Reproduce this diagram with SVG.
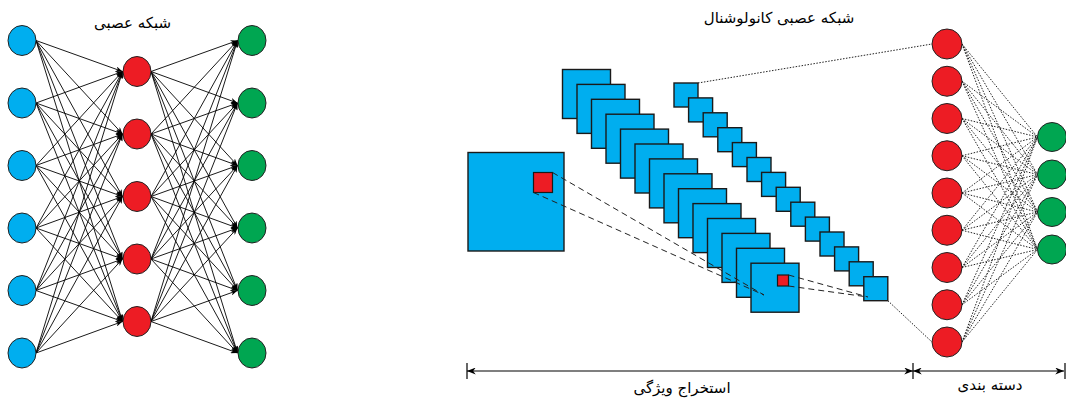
<svg xmlns="http://www.w3.org/2000/svg" width="1066" height="399" viewBox="0 0 1066 399">
  <style>
    .blue { fill: #00AEEF; stroke: #222; stroke-width: 1; }
    .red { fill: #ED1C24; stroke: #222; stroke-width: 1; }
    .green { fill: #00A651; stroke: #222; stroke-width: 1; }
    .fmap { fill: #00AEEF; stroke: #1a1a1a; stroke-width: 1.4; }
    .patch { fill: #ED1C24; stroke: #1a1a1a; stroke-width: 1.2; }
    .edge { stroke: #000; stroke-width: 0.9; fill: none; marker-end: url(#ah); }
    .dash { stroke: #222; stroke-width: 1; stroke-dasharray: 6 4; fill: none; }
    .dot { stroke: #222; stroke-width: 1; stroke-dasharray: 1.5 1.5; fill: none; }
    .dim { stroke: #000; stroke-width: 1.2; fill: none; }
    .label { font-family: "DejaVu Sans", sans-serif; fill: #000; text-anchor: middle; }
  </style>
  <defs>
    <marker id="ah" viewBox="0 0 10 8" refX="10" refY="4" markerWidth="7" markerHeight="5.6" markerUnits="userSpaceOnUse" orient="auto">
      <path d="M0,0 L10,4 L0,8 L3,4 z" fill="#000"/>
    </marker>
    <marker id="dimhead" viewBox="0 0 10 8" refX="10" refY="4" markerWidth="9" markerHeight="7" markerUnits="userSpaceOnUse" orient="auto-start-reverse">
      <path d="M0,0 L10,4 L0,8 L3,4 z" fill="#000"/>
    </marker>
  </defs>

  <!-- connectors -->
  <g id="connectors">
    <!-- fully connected network: input to hidden -->
    <g id="edges-in-hidden">
      <line class="edge" x1="36" y1="40.5" x2="122.5" y2="71.5"/>
      <line class="edge" x1="36" y1="40.5" x2="122.5" y2="134"/>
      <line class="edge" x1="36" y1="40.5" x2="122.5" y2="196.5"/>
      <line class="edge" x1="36" y1="40.5" x2="122.5" y2="259"/>
      <line class="edge" x1="36" y1="40.5" x2="122.5" y2="321.5"/>
      <line class="edge" x1="36" y1="103" x2="122.5" y2="71.5"/>
      <line class="edge" x1="36" y1="103" x2="122.5" y2="134"/>
      <line class="edge" x1="36" y1="103" x2="122.5" y2="196.5"/>
      <line class="edge" x1="36" y1="103" x2="122.5" y2="259"/>
      <line class="edge" x1="36" y1="103" x2="122.5" y2="321.5"/>
      <line class="edge" x1="36" y1="165.5" x2="122.5" y2="71.5"/>
      <line class="edge" x1="36" y1="165.5" x2="122.5" y2="134"/>
      <line class="edge" x1="36" y1="165.5" x2="122.5" y2="196.5"/>
      <line class="edge" x1="36" y1="165.5" x2="122.5" y2="259"/>
      <line class="edge" x1="36" y1="165.5" x2="122.5" y2="321.5"/>
      <line class="edge" x1="36" y1="228" x2="122.5" y2="71.5"/>
      <line class="edge" x1="36" y1="228" x2="122.5" y2="134"/>
      <line class="edge" x1="36" y1="228" x2="122.5" y2="196.5"/>
      <line class="edge" x1="36" y1="228" x2="122.5" y2="259"/>
      <line class="edge" x1="36" y1="228" x2="122.5" y2="321.5"/>
      <line class="edge" x1="36" y1="290.5" x2="122.5" y2="71.5"/>
      <line class="edge" x1="36" y1="290.5" x2="122.5" y2="134"/>
      <line class="edge" x1="36" y1="290.5" x2="122.5" y2="196.5"/>
      <line class="edge" x1="36" y1="290.5" x2="122.5" y2="259"/>
      <line class="edge" x1="36" y1="290.5" x2="122.5" y2="321.5"/>
      <line class="edge" x1="36" y1="353" x2="122.5" y2="71.5"/>
      <line class="edge" x1="36" y1="353" x2="122.5" y2="134"/>
      <line class="edge" x1="36" y1="353" x2="122.5" y2="196.5"/>
      <line class="edge" x1="36" y1="353" x2="122.5" y2="259"/>
      <line class="edge" x1="36" y1="353" x2="122.5" y2="321.5"/>
    </g>
    <!-- fully connected network: hidden to output -->
    <g id="edges-hidden-out">
      <line class="edge" x1="151" y1="71.5" x2="237.5" y2="40.5"/>
      <line class="edge" x1="151" y1="71.5" x2="237.5" y2="103"/>
      <line class="edge" x1="151" y1="71.5" x2="237.5" y2="165.5"/>
      <line class="edge" x1="151" y1="71.5" x2="237.5" y2="228"/>
      <line class="edge" x1="151" y1="71.5" x2="237.5" y2="290.5"/>
      <line class="edge" x1="151" y1="71.5" x2="237.5" y2="353"/>
      <line class="edge" x1="151" y1="134" x2="237.5" y2="40.5"/>
      <line class="edge" x1="151" y1="134" x2="237.5" y2="103"/>
      <line class="edge" x1="151" y1="134" x2="237.5" y2="165.5"/>
      <line class="edge" x1="151" y1="134" x2="237.5" y2="228"/>
      <line class="edge" x1="151" y1="134" x2="237.5" y2="290.5"/>
      <line class="edge" x1="151" y1="134" x2="237.5" y2="353"/>
      <line class="edge" x1="151" y1="196.5" x2="237.5" y2="40.5"/>
      <line class="edge" x1="151" y1="196.5" x2="237.5" y2="103"/>
      <line class="edge" x1="151" y1="196.5" x2="237.5" y2="165.5"/>
      <line class="edge" x1="151" y1="196.5" x2="237.5" y2="228"/>
      <line class="edge" x1="151" y1="196.5" x2="237.5" y2="290.5"/>
      <line class="edge" x1="151" y1="196.5" x2="237.5" y2="353"/>
      <line class="edge" x1="151" y1="259" x2="237.5" y2="40.5"/>
      <line class="edge" x1="151" y1="259" x2="237.5" y2="103"/>
      <line class="edge" x1="151" y1="259" x2="237.5" y2="165.5"/>
      <line class="edge" x1="151" y1="259" x2="237.5" y2="228"/>
      <line class="edge" x1="151" y1="259" x2="237.5" y2="290.5"/>
      <line class="edge" x1="151" y1="259" x2="237.5" y2="353"/>
      <line class="edge" x1="151" y1="321.5" x2="237.5" y2="40.5"/>
      <line class="edge" x1="151" y1="321.5" x2="237.5" y2="103"/>
      <line class="edge" x1="151" y1="321.5" x2="237.5" y2="165.5"/>
      <line class="edge" x1="151" y1="321.5" x2="237.5" y2="228"/>
      <line class="edge" x1="151" y1="321.5" x2="237.5" y2="290.5"/>
      <line class="edge" x1="151" y1="321.5" x2="237.5" y2="353"/>
    </g>
    <!-- classifier: flattened features to outputs -->
    <g id="edges-classifier">
      <line class="dot" x1="962" y1="44" x2="1037.5" y2="137"/>
      <line class="dot" x1="962" y1="44" x2="1037.5" y2="174.5"/>
      <line class="dot" x1="962" y1="44" x2="1037.5" y2="212"/>
      <line class="dot" x1="962" y1="44" x2="1037.5" y2="249.5"/>
      <line class="dot" x1="962" y1="81.25" x2="1037.5" y2="137"/>
      <line class="dot" x1="962" y1="81.25" x2="1037.5" y2="174.5"/>
      <line class="dot" x1="962" y1="81.25" x2="1037.5" y2="212"/>
      <line class="dot" x1="962" y1="81.25" x2="1037.5" y2="249.5"/>
      <line class="dot" x1="962" y1="118.5" x2="1037.5" y2="137"/>
      <line class="dot" x1="962" y1="118.5" x2="1037.5" y2="174.5"/>
      <line class="dot" x1="962" y1="118.5" x2="1037.5" y2="212"/>
      <line class="dot" x1="962" y1="118.5" x2="1037.5" y2="249.5"/>
      <line class="dot" x1="962" y1="155.75" x2="1037.5" y2="137"/>
      <line class="dot" x1="962" y1="155.75" x2="1037.5" y2="174.5"/>
      <line class="dot" x1="962" y1="155.75" x2="1037.5" y2="212"/>
      <line class="dot" x1="962" y1="155.75" x2="1037.5" y2="249.5"/>
      <line class="dot" x1="962" y1="193" x2="1037.5" y2="137"/>
      <line class="dot" x1="962" y1="193" x2="1037.5" y2="174.5"/>
      <line class="dot" x1="962" y1="193" x2="1037.5" y2="212"/>
      <line class="dot" x1="962" y1="193" x2="1037.5" y2="249.5"/>
      <line class="dot" x1="962" y1="230.25" x2="1037.5" y2="137"/>
      <line class="dot" x1="962" y1="230.25" x2="1037.5" y2="174.5"/>
      <line class="dot" x1="962" y1="230.25" x2="1037.5" y2="212"/>
      <line class="dot" x1="962" y1="230.25" x2="1037.5" y2="249.5"/>
      <line class="dot" x1="962" y1="267.5" x2="1037.5" y2="137"/>
      <line class="dot" x1="962" y1="267.5" x2="1037.5" y2="174.5"/>
      <line class="dot" x1="962" y1="267.5" x2="1037.5" y2="212"/>
      <line class="dot" x1="962" y1="267.5" x2="1037.5" y2="249.5"/>
      <line class="dot" x1="962" y1="304.75" x2="1037.5" y2="137"/>
      <line class="dot" x1="962" y1="304.75" x2="1037.5" y2="174.5"/>
      <line class="dot" x1="962" y1="304.75" x2="1037.5" y2="212"/>
      <line class="dot" x1="962" y1="304.75" x2="1037.5" y2="249.5"/>
      <line class="dot" x1="962" y1="342" x2="1037.5" y2="137"/>
      <line class="dot" x1="962" y1="342" x2="1037.5" y2="174.5"/>
      <line class="dot" x1="962" y1="342" x2="1037.5" y2="212"/>
      <line class="dot" x1="962" y1="342" x2="1037.5" y2="249.5"/>
    </g>
  </g>

  <!-- plain fully connected network -->
  <text class="label" x="132.5" y="28" font-size="15">شبکه عصبی</text>
  <g id="input-layer">
    <g id="in-1"><ellipse class="blue" cx="22" cy="40.5" rx="14" ry="15"/></g>
    <g id="in-2"><ellipse class="blue" cx="22" cy="103" rx="14" ry="15"/></g>
    <g id="in-3"><ellipse class="blue" cx="22" cy="165.5" rx="14" ry="15"/></g>
    <g id="in-4"><ellipse class="blue" cx="22" cy="228" rx="14" ry="15"/></g>
    <g id="in-5"><ellipse class="blue" cx="22" cy="290.5" rx="14" ry="15"/></g>
    <g id="in-6"><ellipse class="blue" cx="22" cy="353" rx="14" ry="15"/></g>
  </g>
  <g id="hidden-layer">
    <g id="hid-1"><ellipse class="red" cx="137" cy="71.5" rx="14" ry="15"/></g>
    <g id="hid-2"><ellipse class="red" cx="137" cy="134" rx="14" ry="15"/></g>
    <g id="hid-3"><ellipse class="red" cx="137" cy="196.5" rx="14" ry="15"/></g>
    <g id="hid-4"><ellipse class="red" cx="137" cy="259" rx="14" ry="15"/></g>
    <g id="hid-5"><ellipse class="red" cx="137" cy="321.5" rx="14" ry="15"/></g>
  </g>
  <g id="output-layer">
    <g id="out-1"><ellipse class="green" cx="252" cy="40.5" rx="14" ry="15"/></g>
    <g id="out-2"><ellipse class="green" cx="252" cy="103" rx="14" ry="15"/></g>
    <g id="out-3"><ellipse class="green" cx="252" cy="165.5" rx="14" ry="15"/></g>
    <g id="out-4"><ellipse class="green" cx="252" cy="228" rx="14" ry="15"/></g>
    <g id="out-5"><ellipse class="green" cx="252" cy="290.5" rx="14" ry="15"/></g>
    <g id="out-6"><ellipse class="green" cx="252" cy="353" rx="14" ry="15"/></g>
  </g>

  <!-- convolutional network -->
  <text class="label" x="779" y="23" font-size="15">شبکه عصبی کانولوشنال</text>

  <g id="input-image">
    <rect class="fmap" x="468" y="152.5" width="96" height="98.5"/>
    <rect class="patch" x="533.5" y="172.5" width="19" height="20"/>
  </g>

  <g id="conv-maps">
    <rect class="fmap" x="562.5" y="69.5" width="48" height="49"/>
    <rect class="fmap" x="577" y="84.4" width="48" height="49"/>
    <rect class="fmap" x="591.5" y="99.3" width="48" height="49"/>
    <rect class="fmap" x="606" y="114.2" width="48" height="49"/>
    <rect class="fmap" x="620.5" y="129.1" width="48" height="49"/>
    <rect class="fmap" x="635" y="144" width="48" height="49"/>
    <rect class="fmap" x="649.5" y="158.9" width="48" height="49"/>
    <rect class="fmap" x="664" y="173.8" width="48" height="49"/>
    <rect class="fmap" x="678.5" y="188.7" width="48" height="49"/>
    <rect class="fmap" x="693" y="203.6" width="48" height="49"/>
    <rect class="fmap" x="707.5" y="218.5" width="48" height="49"/>
    <rect class="fmap" x="722" y="233.4" width="48" height="49"/>
    <rect class="fmap" x="736.5" y="248.3" width="48" height="49"/>
    <rect class="fmap" x="751" y="263.2" width="48" height="49"/>
    <rect class="patch" x="777.5" y="275" width="11" height="11"/>
  </g>

  <g id="pool-maps">
    <rect class="fmap" x="674" y="83" width="24" height="24"/>
    <rect class="fmap" x="688.6" y="97.9" width="24" height="24"/>
    <rect class="fmap" x="703.2" y="112.8" width="24" height="24"/>
    <rect class="fmap" x="717.8" y="127.7" width="24" height="24"/>
    <rect class="fmap" x="732.4" y="142.6" width="24" height="24"/>
    <rect class="fmap" x="747" y="157.5" width="24" height="24"/>
    <rect class="fmap" x="761.6" y="172.4" width="24" height="24"/>
    <rect class="fmap" x="776.2" y="187.3" width="24" height="24"/>
    <rect class="fmap" x="790.8" y="202.2" width="24" height="24"/>
    <rect class="fmap" x="805.4" y="217.1" width="24" height="24"/>
    <rect class="fmap" x="820" y="232" width="24" height="24"/>
    <rect class="fmap" x="834.6" y="246.9" width="24" height="24"/>
    <rect class="fmap" x="849.2" y="261.8" width="24" height="24"/>
    <rect class="fmap" x="863.8" y="276.7" width="24" height="24"/>
  </g>

  <!-- receptive-field and flatten guides -->
  <g id="guides">
    <line class="dash" x1="552.5" y1="172.5" x2="764" y2="295"/>
    <line class="dash" x1="533.5" y1="192.5" x2="764" y2="295"/>
    <line class="dash" x1="788.5" y1="275" x2="868" y2="297"/>
    <line class="dash" x1="788.5" y1="286" x2="868" y2="297"/>
    <line class="dot" x1="698" y1="83" x2="932" y2="44"/>
    <line class="dot" x1="887.8" y1="300.7" x2="932" y2="342"/>
  </g>

  <g id="dense-layer">
    <g id="fc-1"><circle class="red" cx="947" cy="44" r="15"/></g>
    <g id="fc-2"><circle class="red" cx="947" cy="81.25" r="15"/></g>
    <g id="fc-3"><circle class="red" cx="947" cy="118.5" r="15"/></g>
    <g id="fc-4"><circle class="red" cx="947" cy="155.75" r="15"/></g>
    <g id="fc-5"><circle class="red" cx="947" cy="193" r="15"/></g>
    <g id="fc-6"><circle class="red" cx="947" cy="230.25" r="15"/></g>
    <g id="fc-7"><circle class="red" cx="947" cy="267.5" r="15"/></g>
    <g id="fc-8"><circle class="red" cx="947" cy="304.75" r="15"/></g>
    <g id="fc-9"><circle class="red" cx="947" cy="342" r="15"/></g>
  </g>
  <g id="class-layer">
    <g id="cls-1"><circle class="green" cx="1052" cy="137" r="14.5"/></g>
    <g id="cls-2"><circle class="green" cx="1052" cy="174.5" r="14.5"/></g>
    <g id="cls-3"><circle class="green" cx="1052" cy="212" r="14.5"/></g>
    <g id="cls-4"><circle class="green" cx="1052" cy="249.5" r="14.5"/></g>
  </g>

  <!-- stage extents -->
  <g id="stage-dims">
    <line class="dim" x1="467" y1="363" x2="467" y2="379"/>
    <line class="dim" x1="913" y1="363" x2="913" y2="379"/>
    <line class="dim" x1="1065" y1="363" x2="1065" y2="379"/>
    <line class="dim" x1="467" y1="371" x2="913" y2="371" marker-start="url(#dimhead)" marker-end="url(#dimhead)"/>
    <line class="dim" x1="913" y1="371" x2="1064" y2="371" marker-start="url(#dimhead)" marker-end="url(#dimhead)"/>
    <text class="label" x="682" y="393" font-size="15">استخراج ویژگی</text>
    <text class="label" x="990" y="390" font-size="15">دسته بندی</text>
  </g>
</svg>
